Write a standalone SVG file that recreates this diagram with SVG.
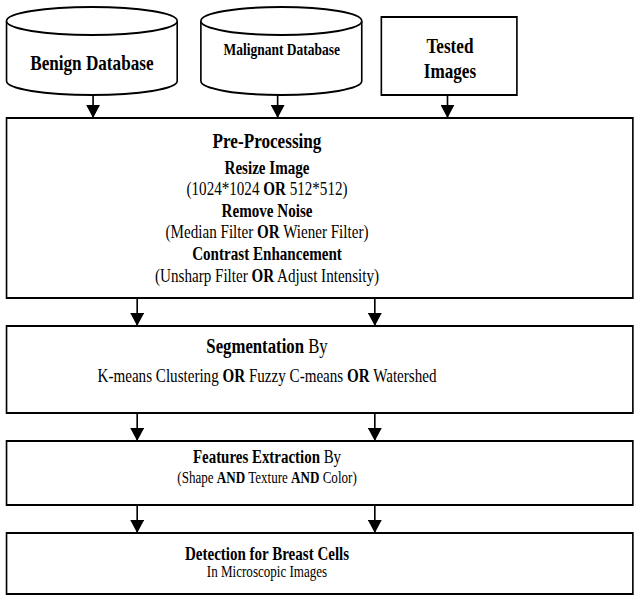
<svg xmlns="http://www.w3.org/2000/svg" width="641" height="596" viewBox="0 0 641 596">
  <defs>
    <marker id="arrow" viewBox="0 0 13 17" refX="13" refY="8.5" markerWidth="13" markerHeight="17" markerUnits="userSpaceOnUse" orient="auto">
      <path d="M0,0 L13,8.5 L0,17 Z" fill="#000"/>
    </marker>
    <style>
      .box { fill: #fff; stroke: #000; stroke-width: 2; }
      .cyl { fill: #fff; stroke: #000; stroke-width: 2; }
      .edge { stroke: #000; stroke-width: 2; fill: none; marker-end: url(#arrow); }
      text { font-family: "Liberation Serif", "Times New Roman", serif; fill: #000; text-anchor: middle; }
      .b { font-weight: bold; }
    </style>
  </defs>
  <rect width="641" height="596" fill="#fff"/>

  <!-- whole chart is laid out on a wider grid and narrowed horizontally -->
  <g transform="scale(0.8166 1)">
    <!-- Source databases and test images -->
    <g id="benign-db">
      <path class="cyl" d="M8,21 L8,81 A104.5,14 0 0 0 217,81 L217,21"/>
      <ellipse class="cyl" cx="112.5" cy="21" rx="104.5" ry="14"/>
      <text class="b" x="112.5" y="70" font-size="21">Benign Database</text>
    </g>
    <g id="malignant-db">
      <path class="cyl" d="M246,21 L246,81 A98.5,14 0 0 0 443,81 L443,21"/>
      <ellipse class="cyl" cx="344.5" cy="21" rx="98.5" ry="14"/>
      <text class="b" x="345" y="55" font-size="16.5">Malignant Database</text>
    </g>
    <g id="tested-images">
      <rect class="box" x="467" y="17" width="166" height="78"/>
      <text class="b" x="551" y="53" font-size="21">Tested</text>
      <text class="b" x="551" y="78" font-size="21">Images</text>
    </g>

    <!-- Processing stages -->
    <g id="pre-processing">
      <rect class="box" x="8" y="118" width="767" height="180"/>
      <text class="b" x="327" y="148" font-size="21">Pre-Processing</text>
      <text class="b" x="327" y="174" font-size="18.5">Resize Image</text>
      <text x="327" y="195" font-size="18.5">(1024*1024 <tspan class="b">OR</tspan> 512*512)</text>
      <text class="b" x="327" y="217" font-size="18.5">Remove Noise</text>
      <text x="327" y="238" font-size="18.5">(Median Filter <tspan class="b">OR</tspan> Wiener Filter)</text>
      <text class="b" x="327" y="260" font-size="18.5">Contrast Enhancement</text>
      <text x="327" y="282" font-size="18.5">(Unsharp Filter <tspan class="b">OR</tspan> Adjust Intensity)</text>
    </g>
    <g id="segmentation">
      <rect class="box" x="8" y="326" width="767" height="87"/>
      <text x="327" y="353" font-size="20.5"><tspan class="b">Segmentation</tspan> By</text>
      <text x="327" y="382" font-size="18.5">K-means Clustering <tspan class="b">OR</tspan> Fuzzy C-means <tspan class="b">OR</tspan> Watershed</text>
    </g>
    <g id="features">
      <rect class="box" x="8" y="441" width="767" height="64"/>
      <text x="327" y="463" font-size="18.3"><tspan class="b">Features Extraction</tspan> By</text>
      <text x="327" y="483" font-size="16">(Shape <tspan class="b">AND</tspan> Texture <tspan class="b">AND</tspan> Color)</text>
    </g>
    <g id="detection">
      <rect class="box" x="8" y="533" width="767" height="61"/>
      <text class="b" x="327" y="560" font-size="18.4">Detection for Breast Cells</text>
      <text x="327" y="577" font-size="16">In Microscopic Images</text>
    </g>

    <!-- Connectors -->
    <g id="connectors">
      <line class="edge" x1="114" y1="95" x2="114" y2="118"/>
      <line class="edge" x1="340" y1="95" x2="340" y2="118"/>
      <line class="edge" x1="548" y1="95" x2="548" y2="118"/>
      <line class="edge" x1="168" y1="299" x2="168" y2="326"/>
      <line class="edge" x1="459" y1="299" x2="459" y2="326"/>
      <line class="edge" x1="168" y1="414" x2="168" y2="441"/>
      <line class="edge" x1="459" y1="414" x2="459" y2="441"/>
      <line class="edge" x1="168" y1="506" x2="168" y2="533"/>
      <line class="edge" x1="459" y1="506" x2="459" y2="533"/>
    </g>
  </g>
</svg>
